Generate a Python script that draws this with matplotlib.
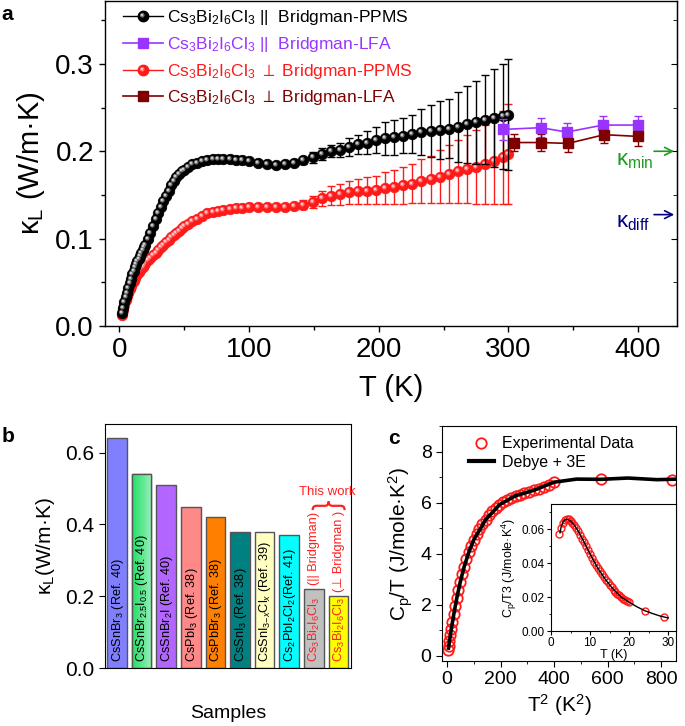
import numpy as np
import matplotlib
matplotlib.use("Agg")
import matplotlib.pyplot as plt
from matplotlib.path import Path
from matplotlib.patches import PathPatch
from matplotlib.lines import Line2D
from matplotlib.legend_handler import HandlerTuple
from matplotlib.ticker import MultipleLocator

plt.rcParams['font.family'] = ['Liberation Sans', 'DejaVu Sans']
plt.rcParams['mathtext.fontset'] = 'custom'
plt.rcParams['mathtext.rm'] = 'Liberation Sans'
plt.rcParams['mathtext.it'] = 'Liberation Sans:italic'
plt.rcParams['mathtext.bf'] = 'Liberation Sans:bold'
plt.rcParams['mathtext.fallback'] = 'stixsans'

# ---------------- Panel a data ----------------
T_par = [2, 3, 4, 5, 6, 7, 8, 9, 10, 11, 12, 13, 14, 15, 16, 17, 18, 19, 20, 22, 24, 26, 28, 30,
         32, 34, 36, 38, 40, 42, 44, 46, 48, 50, 53, 56, 60, 64, 68, 72, 76, 80, 85, 90, 95, 100,
         107, 114, 121, 128, 135, 142, 149, 156, 163, 170, 177, 184, 191, 198, 205, 212, 219, 226,
         233, 240, 247, 254, 261, 268, 275, 282, 289, 296, 300]
k_par = [0.015, 0.021, 0.027, 0.033, 0.038, 0.044, 0.049, 0.054, 0.059, 0.063, 0.067, 0.071, 0.074,
         0.077, 0.080, 0.084, 0.087, 0.090, 0.093, 0.100, 0.107, 0.114, 0.122, 0.129, 0.136, 0.143,
         0.149, 0.155, 0.161, 0.166, 0.170, 0.174, 0.177, 0.179, 0.182, 0.185, 0.187, 0.189, 0.190,
         0.191, 0.191, 0.191, 0.191, 0.1905, 0.190, 0.189, 0.187, 0.185, 0.184, 0.185, 0.187, 0.190,
         0.193, 0.197, 0.200, 0.202, 0.205, 0.208, 0.210, 0.213, 0.215, 0.216, 0.218, 0.220, 0.222,
         0.223, 0.224, 0.226, 0.228, 0.231, 0.233, 0.236, 0.238, 0.240, 0.242]
e_par = [0] * 50 + [0.003, 0.004, 0.006, 0.007, 0.007, 0.008, 0.010, 0.011, 0.013, 0.015, 0.019,
                    0.020, 0.020, 0.022, 0.026, 0.030, 0.033, 0.034, 0.040, 0.044, 0.048, 0.051,
                    0.056, 0.060, 0.064]

T_perp = T_par
k_perp = [0.013, 0.018, 0.024, 0.030, 0.034, 0.038, 0.042, 0.046, 0.049, 0.052, 0.055, 0.058, 0.060,
          0.062, 0.064, 0.066, 0.068, 0.070, 0.072, 0.075, 0.078, 0.081, 0.084, 0.087, 0.090, 0.093,
          0.096, 0.099, 0.102, 0.104, 0.107, 0.109, 0.112, 0.114, 0.117, 0.120, 0.123, 0.126, 0.129,
          0.130, 0.132, 0.133, 0.134, 0.135, 0.135, 0.136, 0.136, 0.136, 0.136, 0.136, 0.137, 0.139,
          0.142, 0.146, 0.149, 0.151, 0.153, 0.154, 0.155, 0.156, 0.158, 0.159, 0.161, 0.163, 0.166,
          0.168, 0.171, 0.174, 0.177, 0.180, 0.182, 0.185, 0.189, 0.193, 0.197]
e_perp = [0] * 50 + [0.003, 0.005, 0.007, 0.009, 0.011, 0.012, 0.013, 0.014, 0.015, 0.016, 0.018,
                     0.019, 0.021, 0.022, 0.025, 0.027, 0.030, 0.033, 0.036, 0.039, 0.042, 0.045,
                     0.049, 0.053, 0.057]

T_lfa_par = [296, 325, 345, 373, 400]
k_lfa_par = [0.225, 0.227, 0.222, 0.230, 0.230]
e_lfa_par = [0.012, 0.011, 0.010, 0.010, 0.010]

T_lfa_perp = [304, 325, 346, 374, 400]
k_lfa_perp = [0.210, 0.210, 0.209, 0.219, 0.217]
e_lfa_perp = [0.010, 0.010, 0.010, 0.010, 0.011]

k_min = 0.200
k_diff = 0.1275

# ---------------- Panel b data ----------------
samples = ["CsSnBr$_3$ (Ref. 40)", "CsSnBr$_{2.5}$I$_{0.5}$ (Ref. 40)", "CsSnBr$_2$I (Ref. 40)",
           "CsPbI$_3$ (Ref. 38)", "CsPbBr$_3$ (Ref. 38)", "CsSnI$_3$ (Ref. 38)",
           "CsSnI$_{3\\mathrm{-}x}$Cl$_x$ (Ref. 39)", "Cs$_2$PbI$_2$Cl$_2$(Ref. 41)",
           "Cs$_3$Bi$_2$I$_6$Cl$_3$", "Cs$_3$Bi$_2$I$_6$Cl$_3$"]
kappa_b = [0.64, 0.54, 0.51, 0.45, 0.42, 0.38, 0.38, 0.37, 0.22, 0.20]
bar_colors = ['#8080ff', '#33dd77', '#b266ff', '#ff8888', '#ff8000', '#008080', '#ffffc0',
              '#00ffff', '#c0c0c0', '#ffff00']
orient_labels = ["(|| Bridgman)", "(⊥ Bridgman )"]

# ---------------- Panel c data ----------------
T_c = [2, 2.5, 3, 3.5, 4, 4.5, 5, 5.5, 6, 6.5, 7, 7.5, 8, 8.5, 9, 9.5, 10, 10.5, 11, 11.5, 12,
       12.5, 13, 13.5, 14, 14.5, 15, 15.5, 16, 16.5, 17, 17.5, 18, 18.5, 19, 19.5, 20, 24, 29]
cp_T3 = [0.0570, 0.0610, 0.0638, 0.0655, 0.0662, 0.0660, 0.0652, 0.0640, 0.0625, 0.0608, 0.0590,
         0.0568, 0.0546, 0.0523, 0.0500, 0.0477, 0.0455, 0.0432, 0.0410, 0.0390, 0.0370, 0.0352,
         0.0335, 0.0318, 0.0302, 0.0287, 0.0272, 0.0258, 0.0245, 0.0232, 0.0221, 0.0210, 0.0200,
         0.0191, 0.0183, 0.0176, 0.0170, 0.0120, 0.0082]
T_fit = [2.3, 2.6, 3, 3.5, 4, 4.5, 5, 6, 7, 8, 9, 10, 12, 14, 16, 18, 20, 22, 24, 26, 28, 30]
fit_T3 = [0.0580, 0.0615, 0.0640, 0.0656, 0.0660, 0.0657, 0.0650, 0.0624, 0.0589, 0.0546, 0.0500,
          0.0455, 0.0370, 0.0302, 0.0245, 0.0200, 0.0170, 0.0143, 0.0120, 0.0103, 0.0088, 0.0077]

# ---------------- Figure ----------------
W, H = 685, 726
fig = plt.figure(figsize=(W / 100, H / 100), dpi=100)


def fax(l, t, r, b):
    return fig.add_axes([l / W, 1 - b / H, (r - l) / W, (b - t) / H])


axA = fax(105, 1, 677, 326)
axB = fax(105, 424, 351, 668)
axC = fax(442, 426, 676, 661)
axI = fax(551, 504, 676, 631)


def hl_marker(cx, cy, r):
    circ = Path.circle(center=(cx, cy), radius=r)
    verts = np.concatenate([[[0.5, 0.5], [-0.5, -0.5]], circ.vertices])
    codes = np.concatenate([[Path.MOVETO, Path.MOVETO], circ.codes])
    return Path(verts, codes)


HL1 = hl_marker(-0.12, 0.12, 0.22)
HL2 = hl_marker(-0.15, 0.15, 0.10)

# ---- Panel a ----
ax = axA
MS = 7.5
RED = '#ff1a1a'
hl1c = {'black': '#777777', RED: '#ff7777'}
hl2c = {'black': '#dddddd', RED: '#ffdddd'}


def ball_series(x, y, err, color, z):
    x = np.asarray(x, float); y = np.asarray(y, float); err = np.asarray(err, float)
    m = err > 0
    ax.errorbar(x[m], y[m], yerr=err[m], fmt='none', ecolor=color, elinewidth=1.0,
                capsize=3, capthick=1.0, zorder=z)
    ax.plot(x, y, '-', color=color, lw=1.0, zorder=z + 0.1)
    ax.plot(x, y, 'o', ls='none', ms=MS, mfc=color, mec=color, mew=0.6, zorder=z + 0.2)
    ax.plot(x, y, ls='none', marker=HL1, ms=MS, mfc=hl1c[color], mec='none', zorder=z + 0.3)
    ax.plot(x, y, ls='none', marker=HL2, ms=MS, mfc=hl2c[color], mec='none', zorder=z + 0.4)


ball_series(T_perp, k_perp, e_perp, RED, 2)
ball_series(T_par, k_par, e_par, 'black', 3)

PURPLE = '#9933ff'
BROWN = '#800000'
ax.errorbar(T_lfa_par, k_lfa_par, yerr=e_lfa_par, fmt='s-', color=PURPLE, ms=6.5, lw=1.2,
            elinewidth=1.0, capsize=3, capthick=1.0, zorder=6)
ax.errorbar(T_lfa_perp, k_lfa_perp, yerr=e_lfa_perp, fmt='s-', color=BROWN, ms=6.5, lw=1.2,
            elinewidth=1.0, capsize=3, capthick=1.0, zorder=6)

ax.set_xlim(-11, 430)
ax.set_ylim(0, 0.372)
ax.xaxis.set_major_locator(MultipleLocator(100))
ax.xaxis.set_minor_locator(MultipleLocator(50))
ax.yaxis.set_major_locator(MultipleLocator(0.1))
ax.yaxis.set_minor_locator(MultipleLocator(0.05))
ax.yaxis.set_major_formatter(matplotlib.ticker.FormatStrFormatter('%.1f'))
ax.tick_params(which='both', direction='out', labelsize=20, width=1)
ax.tick_params(which='major', length=4.5)
ax.tick_params(which='minor', length=3)
for sp in ax.spines.values():
    sp.set_linewidth(1.0)
ax.set_xlabel('T (K)', fontsize=21, labelpad=8)
ax.set_ylabel('κ$_\\mathrm{L}$ (W/m·K)', fontsize=21, labelpad=6)

secy = ax.secondary_yaxis('right')
secy.yaxis.set_major_locator(MultipleLocator(0.1))
secy.yaxis.set_minor_locator(MultipleLocator(0.05))
secy.tick_params(which='both', direction='in', labelright=False)
secy.tick_params(which='major', length=4.5)
secy.tick_params(which='minor', length=3)

ax.annotate('', xy=(1.0, k_min), xycoords=('axes fraction', 'data'),
            xytext=(0.955, k_min), textcoords=('axes fraction', 'data'),
            arrowprops=dict(arrowstyle='->', color='#1f9a1f', lw=1.2, mutation_scale=14))
ax.text(0.893, k_min - 0.011, 'κ$_\\mathrm{min}$', transform=ax.get_yaxis_transform(),
        color='#1f9a1f', fontsize=16, va='center', ha='left')
ax.annotate('', xy=(1.0, k_diff), xycoords=('axes fraction', 'data'),
            xytext=(0.955, k_diff), textcoords=('axes fraction', 'data'),
            arrowprops=dict(arrowstyle='->', color='#000080', lw=1.2, mutation_scale=14))
ax.text(0.893, k_diff - 0.009, 'κ$_\\mathrm{diff}$', transform=ax.get_yaxis_transform(),
        color='#000080', fontsize=16, va='center', ha='left')

h_par = (Line2D([], [], color='black', lw=1.0, marker='o', ms=MS, mfc='black', mec='black'),
         Line2D([], [], ls='none', marker=HL1, ms=MS, mfc=hl1c['black'], mec='none'),
         Line2D([], [], ls='none', marker=HL2, ms=MS, mfc=hl2c['black'], mec='none'))
h_perp = (Line2D([], [], color=RED, lw=1.0, marker='o', ms=MS, mfc=RED, mec=RED),
          Line2D([], [], ls='none', marker=HL1, ms=MS, mfc=hl1c[RED], mec='none'),
          Line2D([], [], ls='none', marker=HL2, ms=MS, mfc=hl2c[RED], mec='none'))
h_lp = Line2D([], [], color=PURPLE, lw=1.2, marker='s', ms=6.5)
h_lb = Line2D([], [], color=BROWN, lw=1.2, marker='s', ms=6.5)
labels = ['Cs$_3$Bi$_2$I$_6$Cl$_3$ ||  Bridgman-PPMS', 'Cs$_3$Bi$_2$I$_6$Cl$_3$ ||  Bridgman-LFA',
          'Cs$_3$Bi$_2$I$_6$Cl$_3$ $\\perp$ Bridgman-PPMS', 'Cs$_3$Bi$_2$I$_6$Cl$_3$ $\\perp$ Bridgman-LFA']
leg = ax.legend([h_par, h_lp, h_perp, h_lb], labels, loc='upper left',
                bbox_to_anchor=(0.016, 1.005), frameon=False, fontsize=12.5,
                handlelength=2.3, handletextpad=0.25, labelspacing=0.45, borderpad=0,
                handler_map={tuple: HandlerTuple(ndivide=1, pad=0)})
for t, c in zip(leg.get_texts(), ['black', PURPLE, RED, BROWN]):
    t.set_color(c)

# ---- Panel b ----
ax = axB
xb = np.arange(len(kappa_b))
bars = ax.bar(xb, kappa_b, width=0.8, color=bar_colors, edgecolor='#555555', linewidth=1.0,
              zorder=2)
b2 = bars[1]
grad = np.linspace(0, 1, 64).reshape(1, -1)
cmap = matplotlib.colors.LinearSegmentedColormap.from_list('g', ['#22dd66', '#99f0bb'])
im = ax.imshow(grad, cmap=cmap, aspect='auto', zorder=2.5,
               extent=(b2.get_x(), b2.get_x() + b2.get_width(), 0, b2.get_height()))
im.set_clip_path(b2)
ax.bar([xb[1]], [kappa_b[1]], width=0.8, color='none', edgecolor='#555555', linewidth=1.0,
       zorder=3)

for i, (x, lab) in enumerate(zip(xb, samples)):
    col = '#ff2020' if i >= 8 else 'black'
    ax.text(x + 0.03, 0.016, lab, rotation=90, ha='center', va='bottom', fontsize=9.2,
            color=col, zorder=4)
for x, h, lab in zip(xb[8:], kappa_b[8:], orient_labels):
    ax.text(x, h + 0.012, lab, rotation=90, ha='center', va='bottom', fontsize=9.2,
            color='#ff2020')

x0, x1, yb, hb = 7.95, 9.25, 0.440, 0.024
xm = (x0 + x1) / 2
d = 0.15
verts = [(x0, yb), (x0, yb + hb / 2), (x0 + d, yb + hb / 2),
         (xm - d, yb + hb / 2), (xm, yb + hb / 2), (xm, yb + hb),
         (xm, yb + hb / 2), (xm + d, yb + hb / 2),
         (x1 - d, yb + hb / 2), (x1, yb + hb / 2), (x1, yb)]
codes = [Path.MOVETO, Path.CURVE3, Path.CURVE3, Path.LINETO, Path.CURVE3, Path.CURVE3,
         Path.CURVE3, Path.CURVE3, Path.LINETO, Path.CURVE3, Path.CURVE3]
ax.add_patch(PathPatch(Path(verts, codes), fill=False, ec='#ff2020', lw=1.6, clip_on=False))
ax.text(8.55, 0.49, 'This work', color='#ff2020', fontsize=9.5, ha='center', va='center')

ax.set_xlim(-0.49, 9.51)
ax.set_ylim(0, 0.68)
ax.set_xticks([])
ax.yaxis.set_major_locator(MultipleLocator(0.2))
ax.yaxis.set_major_formatter(matplotlib.ticker.FormatStrFormatter('%.1f'))
ax.tick_params(axis='y', direction='out', length=4, labelsize=15)
ax.set_ylabel('κ$_\\mathrm{L}$(W/m·K)', fontsize=15, labelpad=6)
ax.set_xlabel('Samples', fontsize=14, labelpad=27)

# ---- Panel c ----
ax = axC
Tc = np.asarray(T_c, float)
Tf = np.asarray(T_fit, float)
ax.plot(Tc ** 2, np.asarray(cp_T3) * Tc ** 2, 'o', ls='none', mfc='none', mec='#ff1a1a', ms=7.5,
        mew=1.3, zorder=2)
ax.plot(Tf ** 2, np.asarray(fit_T3) * Tf ** 2, '-', color='black', lw=2.6, zorder=3)
ax.set_xlim(-19, 856)
ax.set_ylim(-0.2, 9.0)
ax.xaxis.set_major_locator(MultipleLocator(200))
ax.xaxis.set_minor_locator(MultipleLocator(100))
ax.yaxis.set_major_locator(MultipleLocator(2))
ax.yaxis.set_minor_locator(MultipleLocator(1))
ax.tick_params(which='both', direction='out', labelsize=14)
ax.tick_params(which='major', length=4)
ax.tick_params(which='minor', length=2.5)
ax.set_xlabel('T$^2$ (K$^2$)', fontsize=15, labelpad=3)
ax.set_ylabel('C$_\\mathrm{p}$/T (J/mole·K$^2$)', fontsize=15, labelpad=4)
hc = [Line2D([], [], ls='none', marker='o', mfc='none', mec='#ff1a1a', ms=7.5, mew=1.3),
      Line2D([], [], color='black', lw=3)]
ax.legend(hc, ['Experimental Data', 'Debye + 3E'], loc='upper left', bbox_to_anchor=(0.08, 0.99),
          frameon=False, fontsize=11.5, handlelength=1.6, handletextpad=0.5, labelspacing=0.2,
          borderpad=0)

# ---- Inset ----
ax = axI
ax.plot(Tc, cp_T3, 'o', ls='none', mfc='none', mec='#ff1a1a', ms=5, mew=1.0, zorder=2)
ax.plot(Tf, fit_T3, '-', color='black', lw=1.0, zorder=3)
ax.set_xlim(0, 32)
ax.set_ylim(0, 0.075)
ax.xaxis.set_major_locator(MultipleLocator(10))
ax.xaxis.set_minor_locator(MultipleLocator(5))
ax.yaxis.set_major_locator(MultipleLocator(0.02))
ax.yaxis.set_minor_locator(MultipleLocator(0.01))
ax.yaxis.set_major_formatter(matplotlib.ticker.FormatStrFormatter('%.2f'))
ax.tick_params(which='both', direction='out', labelsize=8.5, pad=1.5)
ax.tick_params(which='major', length=3)
ax.tick_params(which='minor', length=1.5)
ax.set_xlabel('T (K)', fontsize=9, labelpad=0)
ax.set_ylabel('C$_\\mathrm{p}$/T3 (J/mole·K$^4$)', fontsize=9, labelpad=2)
for sp in ax.spines.values():
    sp.set_linewidth(0.8)

fig.text(7 / W, 1 - 15 / H, 'a', fontsize=15, fontweight='bold', ha='center', va='center')
fig.text(8 / W, 1 - 437 / H, 'b', fontsize=15, fontweight='bold', ha='center', va='center')
fig.text(394 / W, 1 - 438 / H, 'c', fontsize=15, fontweight='bold', ha='center', va='center')

fig.savefig('out.png', dpi=100)
